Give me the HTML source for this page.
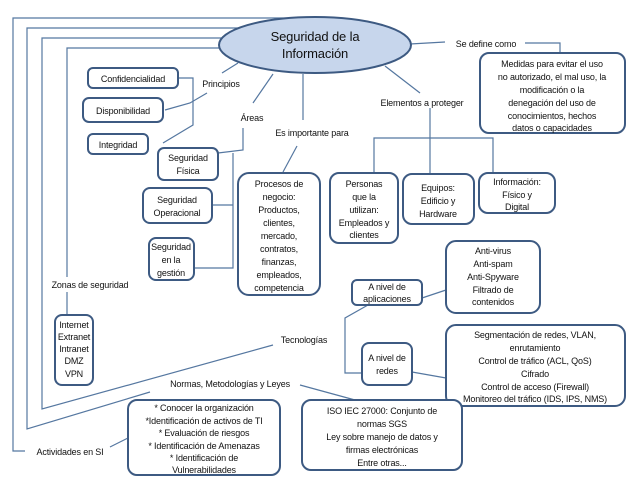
<!DOCTYPE html>
<html><head><meta charset="utf-8"><style>
body{margin:0;background:#fff}
svg{display:block}
text{font-family:"Liberation Sans",sans-serif;font-size:9px;letter-spacing:-0.15px;fill:#111;text-anchor:middle}
.l{stroke:#5577a0;stroke-width:1.2;fill:none}
.b{stroke:#3d5a82;stroke-width:2;fill:#fff}
</style></head><body>
<svg width="638" height="479" viewBox="0 0 638 479">
<polyline class="l" points="315,18 13,18 13,451 25,451"/>
<polyline class="l" points="300,28 27,28 27,429 150,392"/>
<polyline class="l" points="260,38 42,38 42,409 273,345"/>
<polyline class="l" points="222,48 67,48 67,277"/>
<line class="l" x1="67" y1="292" x2="67" y2="315"/>
<line class="l" x1="238" y1="63" x2="222" y2="73"/>
<polyline class="l" points="207,93 190,103 165,110"/>
<polyline class="l" points="178,78 193,78 193,125 163,143"/>
<line class="l" x1="273" y1="74" x2="253" y2="103"/>
<polyline class="l" points="243,128 243,150 218,153"/>
<polyline class="l" points="233,153 233,268 193,268"/>
<line class="l" x1="212" y1="205" x2="233" y2="205"/>
<line class="l" x1="303" y1="74" x2="303" y2="120"/>
<line class="l" x1="297" y1="146" x2="283" y2="172"/>
<line class="l" x1="385" y1="66" x2="420" y2="93"/>
<line class="l" x1="430" y1="108" x2="430" y2="175"/>
<polyline class="l" points="374,173 374,138 493,138 493,173"/>
<line class="l" x1="410" y1="44" x2="445" y2="42"/>
<polyline class="l" points="525,43 560,43 560,53"/>
<polyline class="l" points="368,305 345,318 345,373 362,373"/>
<line class="l" x1="422" y1="298" x2="446" y2="290"/>
<line class="l" x1="412" y1="372" x2="446" y2="378"/>
<line class="l" x1="300" y1="385" x2="355" y2="400"/>
<line class="l" x1="110" y1="447" x2="128" y2="438"/>

<ellipse cx="315" cy="45" rx="96" ry="28" fill="#c7d6ec" stroke="#3d5a82" stroke-width="2"/>
<text x="315" y="41" style="font-size:13px">Seguridad de la</text>
<text x="315" y="58" style="font-size:13px">Información</text>

<text x="486" y="47">Se define como</text>
<rect class="b" x="480" y="53" width="145" height="80" rx="9"/>
<text x="552" y="67">Medidas para evitar el uso</text>
<text x="552" y="80">no autorizado, el mal uso, la</text>
<text x="552" y="93">modificación o la</text>
<text x="552" y="106">denegación del uso de</text>
<text x="552" y="119">conocimientos, hechos</text>
<text x="552" y="131">datos o capacidades</text>

<text x="422" y="106">Elementos a proteger</text>
<rect class="b" x="330" y="173" width="68" height="70" rx="9"/>
<text x="364" y="187">Personas</text><text x="364" y="200">que la</text><text x="364" y="213">utilizan:</text><text x="364" y="226">Empleados y</text><text x="364" y="238">clientes</text>
<rect class="b" x="403" y="174" width="71" height="50" rx="9"/>
<text x="438" y="191">Equipos:</text><text x="438" y="204">Edificio y</text><text x="438" y="217">Hardware</text>
<rect class="b" x="479" y="173" width="76" height="40" rx="9"/>
<text x="517" y="185">Información:</text><text x="517" y="198">Físico y</text><text x="517" y="210">Digital</text>

<text x="312" y="136">Es importante para</text>
<rect class="b" x="238" y="173" width="82" height="122" rx="11"/>
<text x="279" y="187">Procesos de</text><text x="279" y="200">negocio:</text><text x="279" y="213">Productos,</text><text x="279" y="226">clientes,</text><text x="279" y="239">mercado,</text><text x="279" y="252">contratos,</text><text x="279" y="265">finanzas,</text><text x="279" y="278">empleados,</text><text x="279" y="291">competencia</text>

<text x="252" y="121">Áreas</text>
<text x="221" y="87">Principios</text>
<rect class="b" x="88" y="68" width="90" height="20" rx="5"/>
<text x="133" y="82">Confidencialidad</text>
<rect class="b" x="83" y="98" width="80" height="24" rx="6"/>
<text x="123" y="114">Disponibilidad</text>
<rect class="b" x="88" y="134" width="60" height="20" rx="5"/>
<text x="118" y="148">Integridad</text>
<rect class="b" x="158" y="148" width="60" height="32" rx="6"/>
<text x="188" y="161">Seguridad</text><text x="188" y="174">Física</text>
<rect class="b" x="143" y="188" width="69" height="35" rx="7"/>
<text x="177" y="203">Seguridad</text><text x="177" y="216">Operacional</text>
<rect class="b" x="149" y="238" width="45" height="42" rx="7"/>
<text x="171" y="250">Seguridad</text><text x="171" y="263">en la</text><text x="171" y="276">gestión</text>

<text x="90" y="288">Zonas de seguridad</text>
<rect class="b" x="55" y="315" width="38" height="70" rx="7"/>
<text x="74" y="328">Internet</text><text x="74" y="340">Extranet</text><text x="74" y="352">Intranet</text><text x="74" y="364">DMZ</text><text x="74" y="377">VPN</text>

<text x="304" y="343">Tecnologías</text>
<rect class="b" x="352" y="280" width="70" height="25" rx="5"/>
<text x="387" y="290">A nivel de</text><text x="387" y="302">aplicaciones</text>
<rect class="b" x="446" y="241" width="94" height="72" rx="10"/>
<text x="493" y="254">Anti-virus</text><text x="493" y="267">Anti-spam</text><text x="493" y="280">Anti-Spyware</text><text x="493" y="293">Filtrado de</text><text x="493" y="305">contenidos</text>
<rect class="b" x="362" y="343" width="50" height="42" rx="7"/>
<text x="387" y="361">A nivel de</text><text x="387" y="374">redes</text>
<rect class="b" x="446" y="325" width="179" height="81" rx="10"/>
<text x="535" y="338">Segmentación de redes, VLAN,</text><text x="535" y="351">enrutamiento</text><text x="535" y="364">Control de tráfico (ACL, QoS)</text><text x="535" y="377">Cifrado</text><text x="535" y="390">Control de acceso (Firewall)</text><text x="535" y="402">Monitoreo del tráfico (IDS, IPS, NMS)</text>

<text x="230" y="387">Normas, Metodologías y Leyes</text>
<rect class="b" x="302" y="400" width="160" height="70" rx="9"/>
<text x="382" y="414">ISO IEC 27000: Conjunto de</text><text x="382" y="427">normas SGS</text><text x="382" y="440">Ley sobre manejo de datos y</text><text x="382" y="453">firmas electrónicas</text><text x="382" y="466">Entre otras...</text>

<text x="70" y="455">Actividades en SI</text>
<rect class="b" x="128" y="400" width="152" height="75" rx="9"/>
<text x="204" y="411">* Conocer la organización</text><text x="204" y="424">*Identificación de activos de TI</text><text x="204" y="436">* Evaluación de riesgos</text><text x="204" y="449">* Identificación de Amenazas</text><text x="204" y="461">* Identificación de</text><text x="204" y="473">Vulnerabilidades</text>
</svg>
</body></html>
